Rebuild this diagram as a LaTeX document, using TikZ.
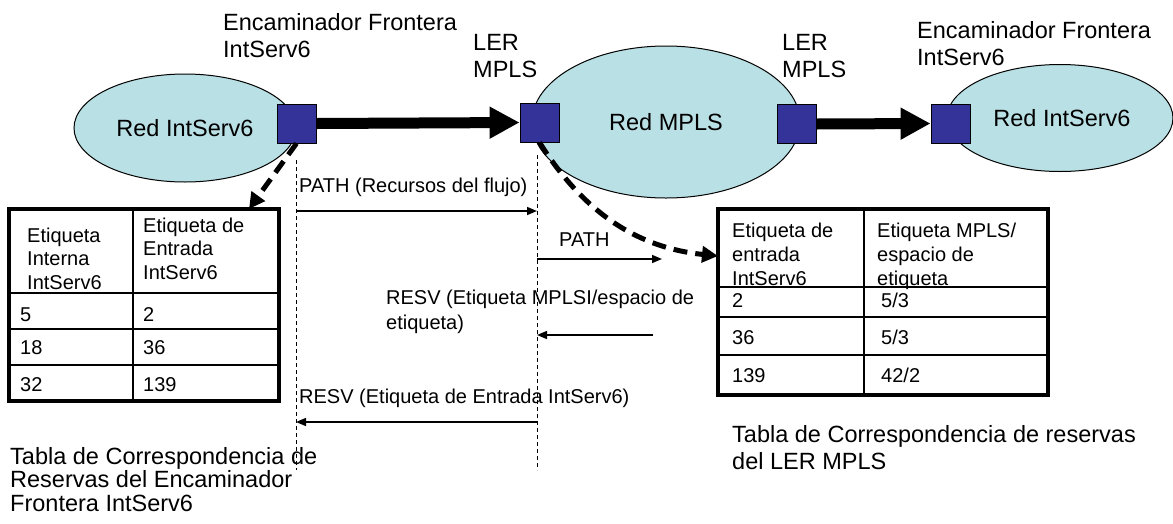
\documentclass[tikz,border=0pt]{standalone}
\usepackage{fontspec}
\setmainfont{Liberation Sans}
\usetikzlibrary{arrows.meta,shapes.geometric}
\definecolor{netfill}{RGB}{185,224,228}
\definecolor{routerblue}{RGB}{51,51,153}
\begin{document}
\begin{tikzpicture}[x=1pt,y=-1pt,
  net/.style={ellipse, draw=black, line width=1pt, fill=netfill, inner sep=0pt, font=\fontsize{23.5}{27}\selectfont},
  router/.style={rectangle, draw=black, line width=0.8pt, fill=routerblue, minimum size=39pt, inner sep=0pt},
  biglbl/.style={anchor=base west, inner sep=0pt, align=left, font=\fontsize{23.5}{27}\selectfont},
  caplbl/.style={anchor=base west, inner sep=0pt, align=left, font=\fontsize{23.5}{23.5}\selectfont},
  msglbl/.style={anchor=base west, inner sep=0pt, align=left, font=\fontsize{20}{25}\selectfont},
  celltxt/.style={anchor=base west, inner sep=0pt, align=left, font=\fontsize{20}{23.5}\selectfont},
  tblframe/.style={draw=black, line width=3.5pt, rectangle, inner sep=0pt},
  tblrule/.style={draw=black, line width=1.5pt},
  flow/.style={line width=11pt, -{Triangle[length=30pt,width=30pt]}},
  mapping/.style={line width=5pt, dash pattern=on 14pt off 8pt, -{Triangle[length=16pt,width=16pt]}},
  msg/.style={line width=1.5pt, -{Triangle[length=10pt,width=8pt]}},
  lifeline/.style={line width=1pt, dash pattern=on 4pt off 3pt},
]
\useasboundingbox (0,0) rectangle (1173,523);

% networks
\node[net, minimum width=222pt, minimum height=108pt] (netL) at (185,128) {Red IntServ6};
\node[net, minimum width=268pt, minimum height=152pt] (netM) at (666,122) {Red MPLS};
\node[net, minimum width=226pt, minimum height=107pt] (netR) at (1060,118) {\hspace*{4pt}Red IntServ6};

% routers
\node[router] (lsq) at (296.5,123.5) {};
\node[router] (ler1) at (539.5,122.5) {};
\node[router] (ler2) at (796.5,124) {};
\node[router] (rsq) at (950.5,123.5) {};

% top labels (anchor = baseline of the last line)
\node[biglbl] (lblL) at (223,57) {Encaminador Frontera\\IntServ6};
\node[biglbl] (lblLer1) at (473,77) {LER\\MPLS};
\node[biglbl] (lblLer2) at (782,77) {LER\\MPLS};
\node[biglbl] (lblR) at (917,65) {Encaminador Frontera\\IntServ6};

% flows
\draw[flow] (lsq.east) -- (ler1.west);
\draw[flow] (ler2.east) -- (rsq.west);

% left table
\node[tblframe, minimum width=270pt, minimum height=192pt] (ltab) at (144,305) {};
\draw[tblrule] (133,209) -- (133,401);
\draw[tblrule] (9,293) -- (279,293);
\draw[tblrule] (9,329) -- (279,329);
\draw[tblrule] (9,365) -- (279,365);
\node[celltxt] (lh1) at (27,289) {Etiqueta\\Interna\\IntServ6};
\node[celltxt] (lh2) at (143,279) {Etiqueta de\\Entrada\\IntServ6};
\node[celltxt] (l11) at (20,321) {5};
\node[celltxt] (l12) at (143,321) {2};
\node[celltxt] (l21) at (20,354) {18};
\node[celltxt] (l22) at (143,354) {36};
\node[celltxt] (l31) at (20,391) {32};
\node[celltxt] (l32) at (143,391) {139};
\node[caplbl] (lcap) at (10,511) {Tabla de Correspondencia de\\Reservas del Encaminador\\Frontera IntServ6};

% right table
\node[tblframe, minimum width=330pt, minimum height=186pt] (rtab) at (883,302) {};
\draw[tblrule] (864,209) -- (864,395);
\draw[tblrule] (718,287) -- (1048,287);
\draw[tblrule] (718,317) -- (1048,317);
\draw[tblrule] (718,355) -- (1048,355);
\node[celltxt, font=\fontsize{20}{24}\selectfont] (rh1) at (732,285) {Etiqueta de\\entrada\\IntServ6};
\node[celltxt, font=\fontsize{20}{24}\selectfont] (rh2) at (877,285) {Etiqueta MPLS/\\espacio de\\etiqueta};
\node[celltxt] (r11) at (732,307) {2};
\node[celltxt] (r12) at (881,307) {5/3};
\node[celltxt] (r21) at (732,344) {36};
\node[celltxt] (r22) at (881,344) {5/3};
\node[celltxt] (r31) at (732,382) {139};
\node[celltxt] (r32) at (881,382) {42/2};
\node[caplbl, font=\fontsize{23.5}{27}\selectfont] (rcap) at (732,469) {Tabla de Correspondencia de reservas\\del LER MPLS};

% mapping arrows
\coordinate (ltip) at (249,209);
\coordinate (rtip) at (718,256);
\draw[mapping] (lsq.south) -- (ltip);
\draw[mapping] (ler1.south) .. controls (585,215) and (640,248) .. (rtip);

% lifelines
\coordinate (ll1a) at (296,160);
\coordinate (ll1b) at (296,470);
\coordinate (ll2a) at (537,155);
\coordinate (ll2b) at (537,470);
\draw[lifeline] (ll1a) -- (ll1b);
\draw[lifeline] (ll2a) -- (ll2b);

% messages
\coordinate (m1s) at (296,211);
\coordinate (m1e) at (537,211);
\coordinate (m2s) at (537,259);
\coordinate (m2e) at (662,259);
\coordinate (m3s) at (653,335);
\coordinate (m3e) at (537,335);
\coordinate (m4s) at (537,422);
\coordinate (m4e) at (296,422);
\draw[msg] (m1s) -- (m1e);
\draw[msg] (m2s) -- (m2e);
\draw[msg] (m3s) -- (m3e);
\draw[msg] (m4s) -- (m4e);
\node[msglbl] (t1) at (299,192) {PATH (Recursos del flujo)};
\node[msglbl] (t2) at (559,246) {PATH};
\node[msglbl] (t3) at (386,329) {RESV (Etiqueta MPLSI/espacio de\\etiqueta)};
\node[msglbl] (t4) at (299,403) {RESV (Etiqueta de Entrada IntServ6)};
\end{tikzpicture}
\end{document}
